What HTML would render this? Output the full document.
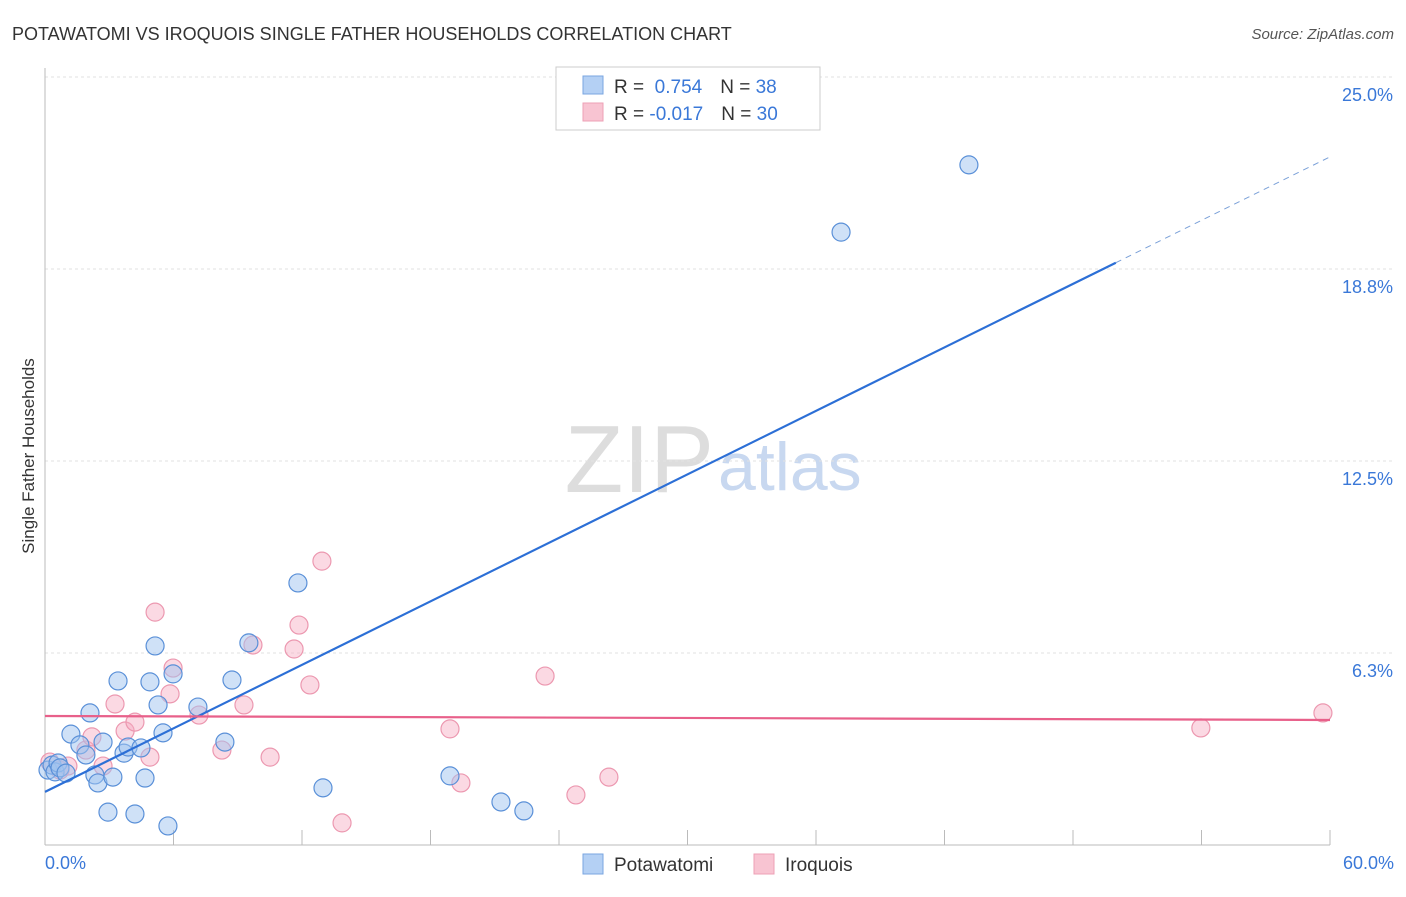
<!DOCTYPE html>
<html><head><meta charset="utf-8"><style>
body{margin:0;background:#fff;font-family:"Liberation Sans",sans-serif;}
svg text{font-family:"Liberation Sans",sans-serif;}
</style></head><body>
<svg id="c" width="1406" height="892">
<text x="12" y="40" font-size="18" fill="#333">POTAWATOMI VS IROQUOIS SINGLE FATHER HOUSEHOLDS CORRELATION CHART</text>
<text x="1394" y="39" font-size="15" fill="#555" font-style="italic" text-anchor="end">Source: ZipAtlas.com</text>
<text x="714" y="492" font-size="96" fill="#ddd" font-family="Liberation Serif" text-anchor="end">ZIP</text>
<text x="718" y="490" font-size="68" fill="#c8d8f0">atlas</text>
<g id="grid"></g>
<line x1="45" y1="68" x2="45" y2="845" stroke="#bbb"/>
<line x1="45" y1="845" x2="1330" y2="845" stroke="#bbb"/>
<g id="ticks"></g>
<text x="34" y="456" font-size="17" fill="#333" text-anchor="middle" transform="rotate(-90 34 456)">Single Father Households</text>
<text x="45" y="869" font-size="18" fill="#3a78d8">0.0%</text>
<text x="1394" y="869" font-size="18" fill="#3a78d8" text-anchor="end">60.0%</text>
<g id="pts"></g>
<g id="trend"></g>
<g>
<rect x="556" y="67" width="264" height="63" fill="#fff" stroke="#ccc"/>
<rect x="583" y="76" width="20" height="18" fill="#b4d0f4" stroke="#7aa6e0"/>
<rect x="583" y="103" width="20" height="18" fill="#f8c4d2" stroke="#eea0b6"/>
<text x="614" y="93" font-size="19" fill="#333">R = <tspan fill="#3a78d8">&#160;0.754</tspan><tspan dx="18" fill="#333">N = </tspan><tspan fill="#3a78d8">38</tspan></text>
<text x="614" y="120" font-size="19" fill="#333">R = <tspan fill="#3a78d8">-0.017</tspan><tspan dx="18" fill="#333">N = </tspan><tspan fill="#3a78d8">30</tspan></text>
</g>
<g>
<rect x="583" y="854" width="20" height="20" fill="#b4d0f4" stroke="#7aa6e0"/>
<text x="614" y="871" font-size="19" fill="#333">Potawatomi</text>
<rect x="754" y="854" width="20" height="20" fill="#f8c4d2" stroke="#eea0b6"/>
<text x="785" y="871" font-size="19" fill="#333">Iroquois</text>
</g>
</svg>
<script>
const yTicks=[6.25,12.5,18.75,25];
const yTickLabels=["6.3%","12.5%","18.8%","25.0%"];
const blueX=[0.14,0.33,0.47,0.61,0.70,0.98,1.21,1.63,1.91,2.10,2.33,2.47,2.71,2.94,3.17,3.41,3.69,3.88,4.20,4.48,4.67,4.90,5.14,5.28,5.51,5.74,5.98,7.14,8.40,8.73,9.52,11.81,12.98,18.91,21.29,22.36,37.17,43.14];
const blueY=[2.44,2.60,2.38,2.67,2.51,2.34,3.61,3.26,2.93,4.30,2.28,2.02,3.35,1.07,2.21,5.34,2.99,3.19,1.01,3.16,2.18,5.31,6.48,4.56,3.65,0.62,5.57,4.49,3.35,5.37,6.58,8.53,1.86,2.25,1.40,1.11,19.95,22.14];
const pinkX=[0.23,0.70,1.07,1.91,2.19,2.71,3.27,3.74,4.20,4.90,5.14,5.84,5.98,7.19,8.26,9.29,9.71,10.51,11.63,11.86,12.37,12.93,13.87,18.91,19.42,23.35,24.79,26.33,53.97,59.67];
const pinkY=[2.70,2.44,2.57,3.09,3.52,2.57,4.59,3.71,4.00,2.86,7.58,4.92,5.76,4.23,3.09,4.56,6.51,2.86,6.38,7.16,5.21,9.24,0.72,3.78,2.02,5.50,1.63,2.21,3.81,4.30];
const blueTrend=[1.73,22.4];
const pinkTrend=[4.20,4.07];
const xs=v=>45+v/60*1285, ys=v=>845-v*30.72;
const NS="http://www.w3.org/2000/svg";
function mk(t,a,p){const e=document.createElementNS(NS,t);for(const k in a)e.setAttribute(k,a[k]);document.getElementById(p).appendChild(e);return e;}
yTicks.forEach((v,i)=>{
 const l=mk('line',{x1:45,x2:1394,y1:ys(v),y2:ys(v),stroke:'#e2e2e2','stroke-dasharray':'3,3'},'grid');
 
 
 const t=mk('text',{x:1393,y:ys(v)+24,'font-size':18,fill:'#3a78d8','text-anchor':'end'},'grid');
 t.textContent=yTickLabels[i];
 
 
});
for(let i=1;i<=10;i++){
 const x=xs(i*6);
 const l=mk('line',{x1:x,x2:x,y1:830,y2:845,stroke:'#bbb'},'ticks');
 
 
}
pinkX.forEach((v,i)=>{
 const c=mk('circle',{cx:xs(v),cy:ys(pinkY[i]),r:9,fill:'rgba(246,170,192,0.45)',stroke:'#ec98b0','stroke-width':1.2},'pts');
 
 
});
blueX.forEach((v,i)=>{
 const c=mk('circle',{cx:xs(v),cy:ys(blueY[i]),r:9,fill:'rgba(160,196,240,0.5)',stroke:'#5a90d8','stroke-width':1.2},'pts');
 
 
});
const bAt=x=>blueTrend[0]+(blueTrend[1]-blueTrend[0])*x/60;
let l=mk('line',{x1:xs(0),y1:ys(bAt(0)),x2:xs(50),y2:ys(bAt(50)),stroke:'#2c6fd6','stroke-width':2.2},'trend');


l=mk('line',{x1:xs(50),y1:ys(bAt(50)),x2:xs(60),y2:ys(bAt(60)),stroke:'#7aa0d8','stroke-width':1,'stroke-dasharray':'6,5'},'trend');


l=mk('line',{x1:xs(0),y1:ys(pinkTrend[0]),x2:xs(60),y2:ys(pinkTrend[1]),stroke:'#e8608a','stroke-width':2.2},'trend');


</script>
</body></html>
